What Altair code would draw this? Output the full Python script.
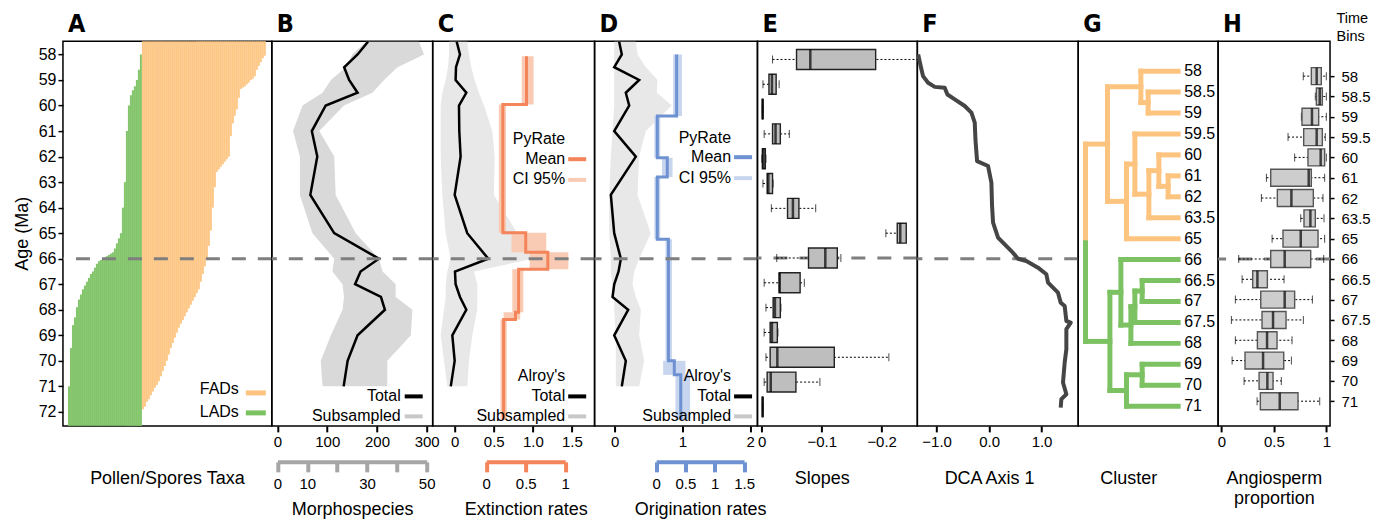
import altair as alt
import pandas as pd

# ---------------- data ----------------
BIN_LABELS = ["58", "58.5", "59", "59.5", "60", "61", "62", "63.5", "65", "66",
              "66.5", "67", "67.5", "68", "69", "70", "71"]
BIN_AGES = [58, 58.5, 59, 59.5, 60, 61, 62, 63.5, 65, 66, 66.5, 67, 67.5, 68, 69, 70, 71]
SERIES_AGES = [57.5] + BIN_AGES

# A: last (LADs) and first (FADs) appearance datums, taxa sorted
A_LAD = [71.0, 69.5, 68.6, 68.3, 67.9, 67.6, 67.4, 67.2, 67.05, 66.9, 66.75, 66.6, 66.5,
         66.35, 66.2, 66.1, 66.05, 66.0, 65.95, 65.9, 65.85, 65.8, 65.75, 65.6, 65.4, 65.2,
         65.0, 64.0, 63.0, 61.0, 60.0, 59.6, 59.4, 59.25, 59.0, 58.6, 58.0]
A_FAD = [71.9, 71.8, 71.6, 71.5, 71.35, 71.2, 71.05, 70.95, 70.8, 70.6, 70.4, 70.2, 70.0,
         69.75, 69.5, 69.3, 69.1, 68.9, 68.7, 68.55, 68.4, 68.25, 68.1, 67.95, 67.8, 67.65,
         67.5, 67.35, 67.2, 66.9, 66.6, 66.3, 66.0, 65.5, 64.9, 64.0, 63.2, 62.6, 62.5, 62.4,
         62.3, 62.2, 62.1, 62.0, 61.2, 60.7, 60.4, 60.15, 59.7, 59.35, 59.3, 59.25, 59.17,
         59.1, 59.0, 58.95, 58.85, 58.6, 58.45, 58.3, 58.15, 58.05]

# B: morphospecies
B_TOTAL = [182, 161, 134, 144, 161, 97, 69, 80, 66, 114, 204, 167, 156, 208, 216, 161, 141, 133]
B_SUB_LO = [29.6, 25.1, 22.9, 17.9, 15.1, 8.4, 5.2, 7.5, 7.5, 11.7, 19.0, 18.4, 21.8, 22.3,
            21.8, 17.9, 14.5, 15.1]
B_SUB_HI = [47.4, 49.1, 40.2, 35.7, 31.8, 22.3, 14.0, 19.0, 19.5, 26.2, 34.0, 35.2, 39.6, 39.6,
            45.2, 44.7, 36.8, 36.8]

# C: extinction rates
C_TOTAL = [0.026, 0.068, 0.017, 0.012, 0.149, 0.055, 0.059, 0.076, 0.0, 0.161, 0.43, 0.004,
           0.012, 0.068, 0.149, -0.03, 0.0, -0.05]
C_SUB_LO = [-0.073, -0.073, -0.086, -0.115, -0.158, -0.179, -0.179, -0.179, -0.158, -0.115,
            -0.052, -0.094, -0.115, -0.115, -0.137, -0.179, -0.137, -0.094]
C_SUB_HI = [0.162, 0.183, 0.213, 0.255, 0.31, 0.375, 0.481, 0.511, 0.502, 0.801, 1.0, 0.247,
            0.289, 0.289, 0.289, 0.226, 0.183, 0.162]
C_PY_START = [58.07, 59.96, 64.98, 65.75, 66.41, 68.1, 68.38]
C_PY_END = [59.96, 64.98, 65.75, 66.41, 68.1, 68.38, 72.3]
C_PY_MEAN = [0.51, 0.21, 0.50, 0.78, 0.41, 0.37, 0.22]
C_PY_LO = [0.45, 0.16, 0.32, 0.55, 0.33, 0.22, 0.18]
C_PY_HI = [0.60, 0.25, 0.76, 1.04, 0.47, 0.43, 0.26]

# D: origination rates
D_TOTAL = [0.068, 0.107, -0.005, 0.363, 0.166, 0.216, -0.005, 0.314, -0.055, -0.005, 0.093,
           0.059, -0.005, -0.030, 0.201, -0.005, 0.166, 0.107]
D_SUB_LO = [-0.005, -0.005, -0.005, -0.005, -0.005, -0.005, -0.030, -0.055, -0.079, -0.079,
            -0.055, -0.055, -0.030, -0.005, -0.005, 0.019, 0.019, 0.019]
D_SUB_HI = [0.314, 0.339, 0.462, 0.634, 0.624, 0.845, 0.462, 0.363, 0.339, 0.535, 0.363,
            0.290, 0.265, 0.314, 0.388, 0.363, 0.437, 0.363]
D_PY_START = [58.0, 60.41, 62.05, 62.8, 65.24, 70.0, 70.55]
D_PY_END = [60.41, 62.05, 62.8, 65.24, 70.0, 70.55, 72.3]
D_PY_MEAN = [0.35, 0.02, 0.19, 0.02, 0.21, 0.31, 0.42]
D_PY_LO = [0.29, -0.03, 0.10, -0.03, 0.16, 0.12, 0.33]
D_PY_HI = [0.44, 0.07, 0.28, 0.07, 0.27, 0.50, 0.58]

# E: slopes (boxplots per 1-Myr age)
E_AGES = [58, 59, 60, 61, 62, 63, 64, 65, 66, 67, 68, 69, 70, 71, 72]
E_WLO = [-0.018, -0.002, -0.001, -0.004, 0.0, -0.002, -0.016, -0.207, -0.025, -0.004, -0.007,
         -0.004, -0.007, -0.004, -0.001]
E_Q1 = [-0.058, -0.012, -0.001, -0.018, -0.001, -0.009, -0.043, -0.226, -0.078, -0.029, -0.019,
        -0.014, -0.014, -0.009, -0.001]
E_MED = [-0.081, -0.017, -0.0015, -0.023, -0.003, -0.011, -0.052, -0.231, -0.106, -0.030,
         -0.022, -0.017, -0.026, -0.015, -0.0015]
E_Q3 = [-0.19, -0.024, -0.002, -0.031, -0.006, -0.018, -0.062, -0.241, -0.126, -0.064, -0.031,
        -0.026, -0.121, -0.057, -0.002]
E_WHI = [-0.27, -0.029, -0.002, -0.046, -0.007, -0.019, -0.090, -0.241, -0.132, -0.071, -0.032,
         -0.027, -0.212, -0.097, -0.002]

# F: DCA axis 1
F_AGE = [58.0, 58.46, 58.85, 59.11, 59.27, 59.3, 59.57, 59.76, 60.02, 60.28, 60.67, 61.33,
         62.18, 62.37, 63.02, 63.94, 64.59, 65.17, 65.44, 65.7, 66.0, 66.09, 66.35, 66.61,
         66.94, 67.33, 67.72, 67.85, 68.44, 68.5, 68.76, 69.55, 70.07, 70.85, 71.31, 71.5, 71.83]
F_DCA = [-1.352, -1.303, -1.259, -1.163, -1.036, -0.846, -0.794, -0.654, -0.464, -0.337, -0.273,
         -0.260, -0.229, -0.019, 0.044, 0.057, 0.076, 0.171, 0.298, 0.425, 0.552, 0.71, 0.933,
         1.092, 1.124, 1.314, 1.365, 1.441, 1.473, 1.556, 1.473, 1.473, 1.441, 1.409, 1.473,
         1.378, 1.365]

# G: cluster dendrogram (leaf = time bin index), merges (child, child, height)
G_LEAF_CLUSTER = ["fad"] * 9 + ["lad"] * 8
G_MERGES = [("L1", "L2", 30.0), ("L0", "M0", 37.3), ("L5", "L6", 10.0), ("L4", "M2", 19.3),
            ("M3", "L7", 29.3), ("L3", "M4", 43.3), ("M5", "L8", 51.7), ("M1", "M6", 70.7),
            ("L10", "L11", 36.0), ("M8", "L12", 43.3), ("M9", "L13", 47.3), ("L9", "M10", 57.3),
            ("L14", "L15", 36.0), ("M12", "L16", 51.7), ("M11", "M13", 68.3), ("M7", "M14", 92.7)]

# H: angiosperm proportion boxplots per time bin
H_WLO = [0.78, 0.895, 0.762, 0.635, 0.698, 0.429, 0.381, 0.756, 0.483, 0.165, 0.197, 0.133,
         0.095, 0.133, 0.102, 0.216, 0.34]
H_Q1 = [0.857, 0.905, 0.768, 0.784, 0.825, 0.47, 0.533, 0.787, 0.587, 0.47, 0.298, 0.375,
        0.387, 0.343, 0.225, 0.359, 0.371]
H_MED = [0.908, 0.937, 0.863, 0.908, 0.946, 0.832, 0.667, 0.848, 0.756, 0.603, 0.343, 0.603,
         0.492, 0.435, 0.397, 0.438, 0.556]
H_Q3 = [0.952, 0.962, 0.927, 0.962, 0.984, 0.857, 0.876, 0.895, 0.921, 0.851, 0.438, 0.698,
        0.616, 0.53, 0.594, 0.492, 0.73]
H_WHI = [1.0, 1.0, 1.0, 0.99, 1.0, 0.984, 0.968, 0.978, 0.984, 0.975, 0.597, 0.867, 0.781,
         0.673, 0.667, 0.571, 0.937]

# ---------------- style ----------------
FONT = "Liberation Sans"
LETTER_FONT = "DejaVu Sans Condensed, Liberation Sans Narrow, Liberation Sans, sans-serif"
ORANGE = "#FDC47F"
GREEN = "#7CC262"
EXT = "#F4845A"
EXT_CI = "#F9CBB4"
ORI = "#6E92D1"
ORI_CI = "#C8D5EE"
GRAY_B = "#D9D9D9"
GRAY_CD = "#E8E8E8"
DASH = "#7F7F7F"
HT = 385
WID = {"A": 209, "B": 161, "C": 162, "D": 163, "E": 160, "F": 161, "G": 140, "H": 112}

AGE_Y = alt.Scale(domain=[58, 72], range=[13.3, 371], nice=False, zero=False)
BIN_Y = alt.Scale(domain=[0, 16], range=[30, 365.3], nice=False, zero=False)


def lin(domain, rng):
    return alt.Scale(domain=domain, range=rng, nice=False, zero=False)


def letter_mark(letter):
    return alt.Chart(pd.DataFrame({"t": [letter]})).mark_text(
        align="left", baseline="alphabetic", fontSize=25, font=LETTER_FONT, fontWeight="bold",
        color="black").encode(text="t:N", x=alt.value(5), y=alt.value(-9))


def main_axis(values=None, title="", label_expr=None, ticks=True, labels=True):
    kw = dict(orient="bottom", domain=False, grid=False, ticks=ticks, labels=labels,
              tickSize=6, tickWidth=2, tickColor="black", labelFontSize=15, labelPadding=3,
              labelFlush=False, labelOverlap=False, title=title, titleY=58,
              titleBaseline="alphabetic", titleFontSize=18, titleFontWeight="normal")
    if values is not None:
        kw["values"] = values
    if label_expr is not None:
        kw["labelExpr"] = label_expr
    return alt.Axis(**kw)


def bracket_axis(values, color, title, label_expr="toString(datum.value)"):
    return alt.Axis(orient="bottom", offset=36, values=values, domain=True, domainColor=color,
                    domainWidth=4, ticks=True, tickColor=color, tickWidth=4, tickSize=10,
                    labelFontSize=15, labelPadding=5, labelFlush=False, labelOverlap=False,
                    labelExpr=label_expr, grid=False, title=title, titleY=53,
                    titleBaseline="alphabetic", titleFontSize=18, titleFontWeight="normal")


def dash_rule(value, scale, yaxis=None):
    return alt.Chart(pd.DataFrame({"age": [value]})).mark_rule(
        color=DASH, strokeWidth=3, strokeDash=[14, 12]).encode(
        y=alt.Y("age:Q", scale=scale, axis=yaxis))


def leg_text(txt, x, y, align="right", size=16):
    return alt.Chart(pd.DataFrame({"t": [txt]})).mark_text(
        align=align, baseline="middle", fontSize=size, font=FONT, color="black").encode(
        text="t:N", x=alt.value(x), y=alt.value(y))


def leg_swatch(color, x0, x1, y, w=5):
    return alt.Chart(pd.DataFrame({"t": [0]})).mark_rule(color=color, strokeWidth=w).encode(
        x=alt.value(x0), x2=alt.value(x1), y=alt.value(y))


# ---------------- Panel A ----------------
dfA_l = pd.DataFrame({"i": list(range(len(A_LAD))), "age": A_LAD})
dfA_l["i2"] = dfA_l["i"] + 1
dfA_f = pd.DataFrame({"i": [len(A_LAD) + j for j in range(len(A_FAD))], "age": A_FAD})
dfA_f["i2"] = dfA_f["i"] + 1
xA = lin([0, 99], [5, 203])
yaxisA = alt.Axis(title="Age (Ma)", values=list(range(58, 73)), domain=False, grid=False,
                  tickSize=5, tickWidth=1.5, tickColor="black", labelFontSize=16,
                  labelPadding=2, titleFontSize=18, titleFontWeight="normal", titlePadding=7)
a_green = alt.Chart(dfA_l).mark_rect(color=GREEN, opacity=0.95).encode(
    x=alt.X("i:Q", scale=xA, axis=main_axis(title="Pollen/Spores Taxa", ticks=False, labels=False)),
    x2="i2:Q", y=alt.Y("age:Q", scale=AGE_Y, axis=yaxisA), y2=alt.value(HT))
a_orange = alt.Chart(dfA_f).mark_rect(color=ORANGE, opacity=0.95).encode(
    x=alt.X("i:Q", scale=xA), x2="i2:Q", y=alt.Y("age:Q", scale=AGE_Y, axis=yaxisA),
    y2=alt.value(0))
panelA = alt.layer(
    a_green, a_orange, dash_rule(66, AGE_Y, yaxisA), letter_mark("A"),
    leg_text("FADs", 176, 348.5), leg_swatch(ORANGE, 183, 203, 352),
    leg_text("LADs", 176, 371), leg_swatch(GREEN, 183, 203, 372),
).properties(width=WID["A"], height=HT)

# ---------------- Panel B ----------------
dfB = pd.DataFrame({"age": SERIES_AGES, "total": B_TOTAL, "lo": B_SUB_LO, "hi": B_SUB_HI})
b_band = alt.Chart(dfB).mark_area(color=GRAY_B, orient="horizontal").encode(
    y=alt.Y("age:Q", scale=AGE_Y, axis=None),
    x=alt.X("lo:Q", scale=lin([0, 50], [5.7, 155]),
            axis=bracket_axis([0, 10, 20, 30, 40, 50], "#A6A6A6", "Morphospecies",
                              "(datum.value == 20 || datum.value == 40) ? '' : toString(datum.value)")),
    x2="hi:Q")
b_line = alt.Chart(dfB).mark_line(color="black", strokeWidth=2.5).encode(
    y=alt.Y("age:Q", scale=AGE_Y, axis=None),
    x=alt.X("total:Q", scale=lin([0, 300], [5.7, 155]), axis=main_axis([0, 100, 200, 300])),
    order=alt.Order("age:Q"))
panelB = alt.layer(
    b_band, b_line, dash_rule(66, AGE_Y), letter_mark("B"),
    leg_text("Total", 129, 355), leg_swatch("black", 133, 151, 355.5, 4),
    leg_text("Subsampled", 129, 375), leg_swatch("#C8C8C8", 133, 151, 375.5, 4),
).resolve_scale(x="independent").properties(width=WID["B"], height=HT)


# ---------------- Panels C & D (rates) ----------------
def step_points(starts, ends, means):
    rows = []
    for s, e, m in zip(starts, ends, means):
        rows.append({"age": s, "v": m})
        rows.append({"age": e, "v": m})
    df = pd.DataFrame(rows)
    df["seq"] = range(len(df))
    return df


def rate_panel(letter, width, total, sub_lo, sub_hi, p_start, p_end, p_mean, p_lo, p_hi,
               main_dom, main_rng, main_vals, main_expr, py_dom, py_rng, py_vals,
               col, col_ci, title, leg_right, leg_ys):
    df = pd.DataFrame({"age": SERIES_AGES, "total": total, "lo": sub_lo, "hi": sub_hi})
    dfp = pd.DataFrame({"s": p_start, "e": p_end, "lo": p_lo, "hi": p_hi})
    dfm = step_points(p_start, p_end, p_mean)
    band = alt.Chart(df).mark_area(color=GRAY_CD, orient="horizontal").encode(
        y=alt.Y("age:Q", scale=AGE_Y, axis=None),
        x=alt.X("lo:Q", scale=lin(main_dom, main_rng), axis=None), x2="hi:Q")
    ci = alt.Chart(dfp).mark_rect(color=col_ci).encode(
        y=alt.Y("s:Q", scale=AGE_Y, axis=None), y2="e:Q",
        x=alt.X("lo:Q", scale=lin(py_dom, py_rng), axis=None), x2="hi:Q")
    mean = alt.Chart(dfm).mark_line(color=col, strokeWidth=3).encode(
        y=alt.Y("age:Q", scale=AGE_Y, axis=None),
        x=alt.X("v:Q", scale=lin(py_dom, py_rng), axis=bracket_axis(py_vals, col, title)),
        order=alt.Order("seq:Q"))
    line = alt.Chart(df).mark_line(color="black", strokeWidth=2.5).encode(
        y=alt.Y("age:Q", scale=AGE_Y, axis=None),
        x=alt.X("total:Q", scale=lin(main_dom, main_rng), axis=main_axis(main_vals, label_expr=main_expr)),
        order=alt.Order("age:Q"))
    r = leg_right
    y_py, y_mean, y_ci, y_al, y_tot, y_sub = leg_ys
    return alt.layer(
        band, ci, mean, line, dash_rule(66, AGE_Y), letter_mark(letter),
        leg_text("PyRate", r, y_py),
        leg_text("Mean", r, y_mean), leg_swatch(col, r + 3, r + 21, y_mean + 0.5, 4),
        leg_text("CI 95%", r, y_ci), leg_swatch(col_ci, r + 3, r + 21, y_ci + 0.5, 4),
        leg_text("Alroy's", r, y_al),
        leg_text("Total", r, y_tot), leg_swatch("black", r + 3, r + 21, y_tot + 0.5, 4),
        leg_text("Subsampled", r, y_sub), leg_swatch("#C8C8C8", r + 3, r + 21, y_sub + 0.5, 4),
    ).resolve_scale(x="independent").properties(width=width, height=HT)


panelC = rate_panel("C", WID["C"], C_TOTAL, C_SUB_LO, C_SUB_HI, C_PY_START, C_PY_END, C_PY_MEAN,
                    C_PY_LO, C_PY_HI, [0, 1.5], [22, 139.3], [0, 0.5, 1, 1.5],
                    "datum.value == 0 ? '0' : format(datum.value, '.1f')",
                    [0, 1], [53.6, 132.6], [0, 0.5, 1], EXT, EXT_CI, "Extinction rates",
                    132.6, (98.3, 117.6, 138.3, 335, 355, 375))
panelD = rate_panel("D", WID["D"], D_TOTAL, D_SUB_LO, D_SUB_HI, D_PY_START, D_PY_END, D_PY_MEAN,
                    D_PY_LO, D_PY_HI, [0, 2], [20, 155.6], [0, 1, 2], "toString(datum.value)",
                    [0, 1.5], [61.6, 149.6], [0, 0.5, 1, 1.5], ORI, ORI_CI, "Origination rates",
                    136.6, (96.6, 115.6, 136.6, 335, 355, 375))


# ---------------- boxplot helper (E & H) ----------------
def boxplot_layers(df, yfield, yscale, yaxis, xscale, xaxis, box_size, fill, stroke):
    base = alt.Chart(df)
    y = alt.Y(f"{yfield}:Q", scale=yscale, axis=yaxis)
    whisk = base.mark_rule(color="black", strokeWidth=1, strokeDash=[2, 2], clip=True).encode(
        x=alt.X("wlo:Q", scale=xscale, axis=xaxis), x2="whi:Q", y=y)
    cap_lo = base.mark_tick(orient="vertical", size=8, thickness=1, color="black", clip=True).encode(
        x=alt.X("wlo:Q", scale=xscale, axis=xaxis), y=y)
    cap_hi = base.mark_tick(orient="vertical", size=8, thickness=1, color="black", clip=True).encode(
        x=alt.X("whi:Q", scale=xscale, axis=xaxis), y=y)
    box = base.mark_bar(orient="horizontal", size=box_size, fill=fill, stroke=stroke,
                        strokeWidth=1.4).encode(x=alt.X("q1:Q", scale=xscale, axis=xaxis),
                                                x2="q3:Q", y=y)
    med = base.mark_tick(orient="vertical", size=box_size, thickness=2.5, color="black").encode(
        x=alt.X("med:Q", scale=xscale, axis=xaxis), y=y)
    return [whisk, cap_lo, cap_hi, box, med]


# ---------------- Panel E ----------------
dfE = pd.DataFrame({"age": E_AGES, "wlo": E_WLO, "q1": E_Q1, "med": E_MED, "q3": E_Q3, "whi": E_WHI})
xE = lin([0, -0.2], [4.3, 124.3])
xaxisE = main_axis([0, -0.1, -0.2], title="Slopes",
                   label_expr="datum.value == 0 ? '0' : format(datum.value, '.1f')")
panelE = alt.layer(
    dash_rule(66, AGE_Y),
    *boxplot_layers(dfE, "age", AGE_Y, None, xE, xaxisE, 20, "#BEBEBE", "#222222"),
    letter_mark("E"),
).properties(width=WID["E"], height=HT)

# ---------------- Panel F ----------------
dfF = pd.DataFrame({"age": F_AGE, "dca": F_DCA})
panelF = alt.layer(
    dash_rule(66, AGE_Y),
    alt.Chart(dfF).mark_line(color="#454545", strokeWidth=4, strokeJoin="round").encode(
        y=alt.Y("age:Q", scale=AGE_Y, axis=None),
        x=alt.X("dca:Q", scale=lin([-1, 1], [19.3, 124.3]),
                axis=main_axis([-1, 0, 1], title="DCA Axis 1", label_expr="format(datum.value, '.1f')")),
        order=alt.Order("age:Q")),
    letter_mark("F"),
).properties(width=WID["F"], height=HT)

# ---------------- Panel G (dendrogram) ----------------
nodes = {}
for i, c in enumerate(G_LEAF_CLUSTER):
    nodes[f"L{i}"] = {"y": float(i), "h": 0.0, "c": c}
segs = []
for k, (a, b, hgt) in enumerate(G_MERGES):
    na, nb = nodes[a], nodes[b]
    cl = na["c"] if na["c"] == nb["c"] else "root"
    ym = (na["y"] + nb["y"]) / 2
    for n in (na, nb):
        segs.append({"x": n["h"], "x2": hgt, "y": n["y"], "y2": n["y"],
                     "col": ORANGE if n["c"] == "fad" else GREEN})
    if cl == "root":
        segs.append({"x": hgt, "x2": hgt, "y": na["y"], "y2": ym,
                     "col": ORANGE if na["c"] == "fad" else GREEN})
        segs.append({"x": hgt, "x2": hgt, "y": ym, "y2": nb["y"],
                     "col": ORANGE if nb["c"] == "fad" else GREEN})
    else:
        segs.append({"x": hgt, "x2": hgt, "y": na["y"], "y2": nb["y"],
                     "col": ORANGE if cl == "fad" else GREEN})
    nodes[f"M{k}"] = {"y": ym, "h": hgt, "c": cl}
dfG = pd.DataFrame(segs)
xG = lin([0, 100], [100, 0])
dfGl = pd.DataFrame({"row": list(range(len(BIN_LABELS))), "lab": BIN_LABELS, "h": [0.0] * len(BIN_LABELS)})
xaxisG = main_axis(title="Cluster", ticks=False, labels=False)
panelG = alt.layer(
    alt.Chart(dfG).mark_rule(strokeWidth=5, strokeCap="square").encode(
        x=alt.X("x:Q", scale=xG, axis=xaxisG),
        x2="x2:Q", y=alt.Y("y:Q", scale=BIN_Y, axis=None), y2="y2:Q",
        color=alt.Color("col:N", scale=None)),
    alt.Chart(dfGl).mark_text(align="left", baseline="middle", dx=6, fontSize=16, font=FONT,
                              color="black").encode(
        x=alt.X("h:Q", scale=xG, axis=xaxisG), y=alt.Y("row:Q", scale=BIN_Y, axis=None), text="lab:N"),
    letter_mark("G"),
).properties(width=WID["G"], height=HT)

# ---------------- Panel H ----------------
dfH = pd.DataFrame({"row": list(range(len(BIN_LABELS))), "wlo": H_WLO, "q1": H_Q1, "med": H_MED,
                    "q3": H_Q3, "whi": H_WHI})
label_arr = "[" + ",".join(f"'{b}'" for b in BIN_LABELS) + "]"
yaxisH = alt.Axis(orient="right", values=list(range(len(BIN_LABELS))),
                  labelExpr=f"{label_arr}[datum.value]", domain=False, grid=False, tickSize=4,
                  tickWidth=1.5, tickColor="black", labelFontSize=15, labelPadding=7,
                  title=["Time", "Bins"], titleAngle=0, titleAlign="left",
                  titleBaseline="alphabetic", titleX=6, titleY=-19, titleFontSize=14.5,
                  titleLineHeight=18, titleFontWeight="normal")
xH = lin([0, 1], [3.3, 108.3])
xaxisH = main_axis([0, 0.5, 1], title=["Angiosperm", "proportion"], label_expr="toString(datum.value)")
panelH = alt.layer(
    dash_rule(9, BIN_Y, yaxisH),
    *boxplot_layers(dfH, "row", BIN_Y, yaxisH, xH, xaxisH, 17, "#CDCDCD", "#555555"),
    letter_mark("H"),
).properties(width=WID["H"], height=HT)

chart = alt.hconcat(
    panelA, panelB, panelC, panelD, panelE, panelF, panelG, panelH,
    spacing=0, bounds="flush",
).resolve_scale(x="independent", y="independent").properties(
    padding={"left": 4, "top": 1, "right": 4, "bottom": 4}
).configure_view(stroke="black", strokeWidth=1.5).configure_axis(
    labelFont=FONT, titleFont=FONT, labelColor="black", titleColor="black", grid=False
).configure_text(font=FONT)

chart.save("out.html", embed_options={"renderer": "svg", "actions": False})
